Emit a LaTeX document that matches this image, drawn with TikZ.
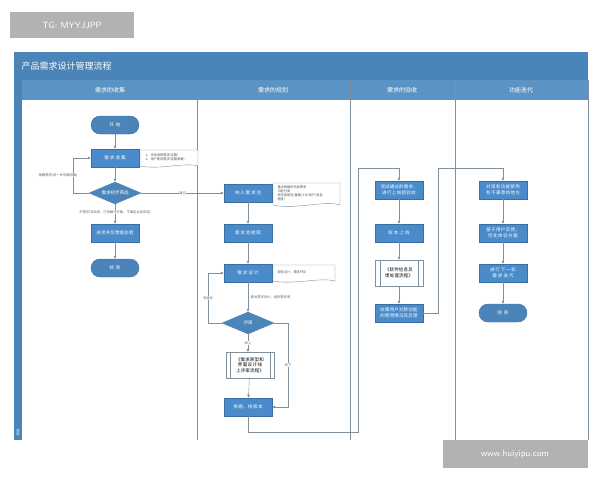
\documentclass[tikz,border=0pt]{standalone}
\usepackage{fontspec}
\setmainfont{Noto Sans CJK SC}
\XeTeXlinebreaklocale "zh"
\XeTeXlinebreakskip=0pt plus 1pt
\usetikzlibrary{shapes.geometric,arrows.meta,calc}
\definecolor{bar}{HTML}{4A84B8}
\definecolor{hdr}{HTML}{5B93C4}
\definecolor{box}{HTML}{4A8BCB}
\definecolor{ln}{HTML}{7F8F9C}
\begin{document}
\begin{tikzpicture}[x=1pt,y=-1pt,
 proc/.style={draw=box!80!black,fill=box,text=white,minimum width=48pt,minimum height=18pt,inner sep=1pt,font=\fontsize{4.5}{5.5}\selectfont,align=center,text width=40pt},
 pill/.style={proc,rounded corners=9pt,fill=bar,minimum height=18pt},
 dia/.style={diamond,aspect=2.4,draw=bar,fill=bar,text=white,inner sep=1pt,minimum width=52pt,minimum height=22pt,font=\fontsize{4.5}{5.5}\selectfont},
 sub/.style={draw=ln,fill=white,minimum width=48pt,minimum height=26pt,text width=32pt,align=center,font=\fontsize{4.5}{5.5}\selectfont},
 lab/.style={font=\fontsize{3.3}{4}\selectfont,text=ln!70!black,fill=white,inner sep=0.5pt},
 ar/.style={draw=ln,-{Latex[length=3pt,width=3pt]}}]
\useasboundingbox (0,0) rectangle (600,480);
\fill[white] (0,0) rectangle (600,480);
% frame
\fill[bar] (14,52) rectangle (588,80);
\node[anchor=west,text=white,font=\fontsize{9}{10}\selectfont] (title) at (18,66) {产品需求设计管理流程};
\fill[bar] (14,80) rectangle (22,440);
\fill[hdr] (22,80) rectangle (588,100);
\foreach \x in {197,350,455}{\draw[ln,line width=0.6pt] (\x,80) -- (\x,440);}
\draw[ln] (588,80) -- (588,440);
\node[text=white,font=\fontsize{6}{7}\selectfont] (h1) at (110,90) {需求的收集};
\node[text=white,font=\fontsize{6}{7}\selectfont] (h2) at (273,90) {需求的规划};
\node[text=white,font=\fontsize{6}{7}\selectfont] (h3) at (402,90) {需求的验收};
\node[text=white,font=\fontsize{6}{7}\selectfont] (h4) at (521,90) {功能迭代};
\node[rotate=90,text=white,font=\fontsize{3.5}{4}\selectfont] (side) at (18,432) {阶段};
% column 1
\node[pill] (start) at (115,125) {开始};
\node[proc] (collect) at (115,158) {需求收集};
\draw[ln,fill=white] (140,150) -- (198,150) -- (198,166) .. controls (185,162) and (160,170) .. (140,166) -- cycle;
\node[font=\fontsize{3.2}{4}\selectfont,align=left,anchor=west,text=ln!60!black] (n1) at (142,157) {1、市场调研需求(定期)\\2、用户使用需求(定期收集)};
\node[dia] (screen) at (115,193) {需求初步筛选};
\node[proc] (close) at (115,233) {关闭并反馈提出者};
\node[pill] (end1) at (115,268) {结束};
\draw[ar] (start) -- (collect);
\draw[ar] (collect) -- (screen);
\draw[ar] (screen) -- (close);
\draw[ar] (close) -- (end1);
\coordinate (l1a) at (73,193); \coordinate (l1b) at (73,158);
\draw[ar] (screen.west) -- (l1a) -- (l1b) -- (collect.west);
\node[lab,anchor=west] (lb1) at (38,175) {理解需求(进一步沟通明确)};
\node[lab] (lb2) at (115,212) {不需求(非共性，已有解决方案，不满足业务实际)};
% column 2
\node[proc] (pool) at (248,193) {纳入需求池};
\draw[ln,fill=white] (273,183) -- (340,183) -- (340,205) .. controls (325,200) and (295,210) .. (273,205) -- cycle;
\node[font=\fontsize{3.2}{4}\selectfont,align=left,anchor=west,text=ln!60!black] (n2) at (274,193) {重点根据优先级需求\\功能分类\\优先级排序(重要/小中用户/紧急\\程度)};
\draw[ar] (screen.east) -- node[lab]{通过} (pool.west);
\node[proc] (extract) at (248,233) {需求池提取};
\node[proc] (design) at (248,273) {需求设计};
\draw[ln,fill=white] (273,265) -- (335,265) -- (335,281) .. controls (320,277) and (295,285) .. (273,281) -- cycle;
\node[font=\fontsize{3.2}{4}\selectfont,anchor=west,text=ln!60!black] (n3) at (274,272) {原型设计，需求PRD};
\node[dia] (review) at (248,323) {评审};
\node[sub] (online) at (250,365) {《需求原型和界面设计线上评审流程》};
\draw[ln] (230,352) -- (230,378) (270,352) -- (270,378);
\node[proc] (sched) at (248,407) {排期，排版本};
\draw[ar] (pool) -- (extract);
\draw[ar] (extract) -- (design);
\draw[ar] (design) -- node[lab,right=2pt]{提出需求设计，组织需评审} (review);
\draw[ar] (review) -- node[lab]{线上} (248,352);
\draw[ar] (online) -- (sched);
\coordinate (l2a) at (208,323); \coordinate (l2b) at (208,273);
\draw[ar] (review.west) -- (l2a) -- node[lab]{未通过} (l2b) -- (design.west);
\coordinate (l3a) at (288,323); \coordinate (l3b) at (288,407);
\draw[ar] (review.east) -- (l3a) -- node[lab]{线下} (l3b) -- (sched.east);
% column 3
\node[proc] (test) at (399,190) {测试通过的需求，进行上线前验收};
\node[proc] (release) at (399,233) {版本上线};
\node[sub] (fb) at (399,273) {《软件信息反馈处理流程》};
\draw[ln] (380,260) -- (380,286) (418,260) -- (418,286);
\node[proc] (gather) at (399,313) {收集用户对新功能的使用情况及反馈};
\coordinate (c1) at (248,432); \coordinate (c2) at (358,432); \coordinate (c3) at (358,168); \coordinate (c4) at (399,168);
\draw[ar] (sched.south) -- (c1) -- (c2) -- (c3) -- (c4) -- (test.north);
\draw[ar] (test) -- (release);
\draw[ar] (release) -- (fb);
\draw[ar] (fb) -- (gather);
% column 4
\node[proc] (unsat) at (503,190) {对现有功能使用有不满意的地方};
\node[proc] (opt) at (503,233) {基于用户反馈，优化体验方案};
\node[proc] (next) at (503,273) {进行下一轮需求迭代};
\node[pill] (end2) at (503,313) {结束};
\coordinate (d1) at (438,313); \coordinate (d2) at (438,168); \coordinate (d3) at (503,168);
\draw[ar] (gather.east) -- (d1) -- (d2) -- (d3) -- (unsat.north);
\draw[ar] (unsat) -- (opt);
\draw[ar] (opt) -- (next);
\draw[ar] (next) -- (end2);
% overlays
\fill[gray!60] (10,12) rectangle (134,38);
\node[text=white,font=\fontsize{9}{10}\selectfont\sffamily] (tg) at (72,25) {TG: MYYJJPP};
\fill[gray!60] (443,440) rectangle (588,468);
\node[text=white,font=\fontsize{9}{10}\selectfont\sffamily] (www) at (515,454) {www.huiyipu.com};
\end{tikzpicture}
\end{document}
